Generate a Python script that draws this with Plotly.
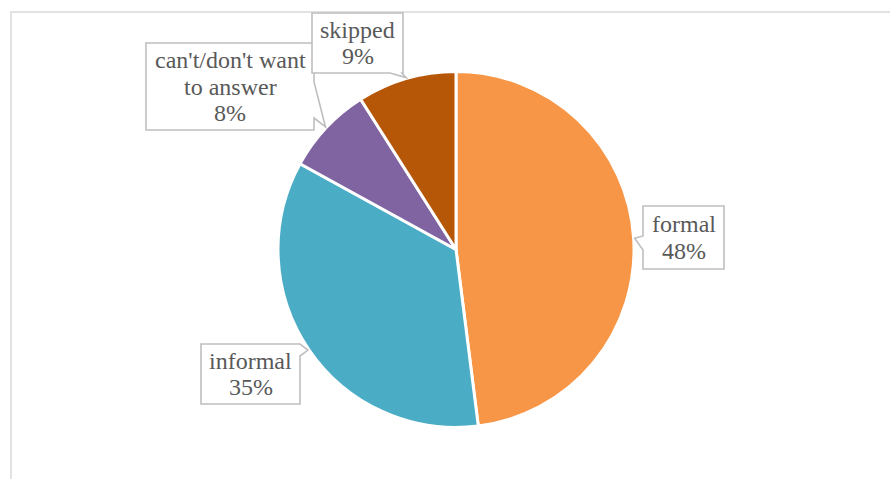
import math
import plotly.graph_objects as go

# Survey answers
categories = ["formal", "informal", "can't/don't want to answer", "skipped"]
shares = [48, 35, 8, 9]
colors = ["#F79646", "#4BACC6", "#8064A2", "#B65708"]

# Label lines as shown in each callout
label_lines = [
    ["formal", "48%"],
    ["informal", "35%"],
    ["can't/don't want", "to answer", "8%"],
    ["skipped", "9%"],
]

W, H = 890, 479
CX, CY, R = 456.0, 249.5, 178.0   # pie centre and radius in pixels

def paper(x, y):
    return x / W, 1 - y / H

fig = go.Figure()
x0, y1 = paper(CX - R, CY - R)
x1, y0 = paper(CX + R, CY + R)
fig.add_trace(go.Pie(
    labels=categories, values=shares, sort=False, direction="clockwise",
    rotation=0, textinfo="none", hoverinfo="label+percent",
    marker=dict(colors=colors, line=dict(color="white", width=3)),
    domain=dict(x=[x0, x1], y=[y0, y1]), showlegend=False,
))

# Callout boxes: (left, top, right, bottom), side of the pointer, span along that side
boxes = [
    ((643, 206, 724, 269), "left", (236, 250)),
    ((201, 344, 300, 404), "right", (344, 356)),
    ((146, 43, 314, 130), "right", (82, 118)),
    ((312, 13, 403, 73), "bottom", (390, 402)),
]

FONT = "Liberation Serif"

total = sum(shares)
cum = 0
shapes = []
annotations = []
LINE = 26.7
for i, v in enumerate(shares):
    mid = (cum + v / 2) / total * 2 * math.pi
    cum += v
    tx = CX + (R + 1) * math.sin(mid)
    ty = CY - (R + 1) * math.cos(mid)
    (l, t, r, b), side, (s0, s1) = boxes[i]
    if side == "left":
        pts = [(l, t), (r, t), (r, b), (l, b), (l, s1), (tx, ty), (l, s0)]
    elif side == "right":
        pts = [(l, t), (r, t), (r, s0), (tx, ty), (r, s1), (r, b), (l, b)]
    else:
        pts = [(l, t), (r, t), (r, b), (s1, b), (tx, ty), (s0, b), (l, b)]
    path = "M " + " L ".join("%.5f,%.5f" % paper(px, py) for px, py in pts) + " Z"
    shapes.append(dict(type="path", xref="paper", yref="paper", path=path,
                       fillcolor="white", line=dict(color="#BFBFBF", width=1.6),
                       layer="above"))
    lines = label_lines[i]
    cy = (t + b) / 2
    for k, txt in enumerate(lines):
        ly = cy + (k - (len(lines) - 1) / 2) * LINE
        ax, ay = paper((l + r) / 2, ly)
        annotations.append(dict(
            x=ax, y=ay, xref="paper", yref="paper", text=txt, showarrow=False,
            xanchor="center", yanchor="middle",
            font=dict(family=FONT, size=24, color="#595959"),
        ))

# Chart area outline
fx0, fy1 = paper(11, 12)
shapes.insert(0, dict(type="rect", xref="paper", yref="paper",
                      x0=fx0, x1=1.02, y0=-0.02, y1=fy1,
                      line=dict(color="#D9D9D9", width=1.5), fillcolor="rgba(0,0,0,0)",
                      layer="below"))

fig.update_layout(
    width=W, height=H, margin=dict(l=0, r=0, t=0, b=0),
    paper_bgcolor="white", plot_bgcolor="white",
    shapes=shapes, annotations=annotations,
)
fig.write_html("out.html")
